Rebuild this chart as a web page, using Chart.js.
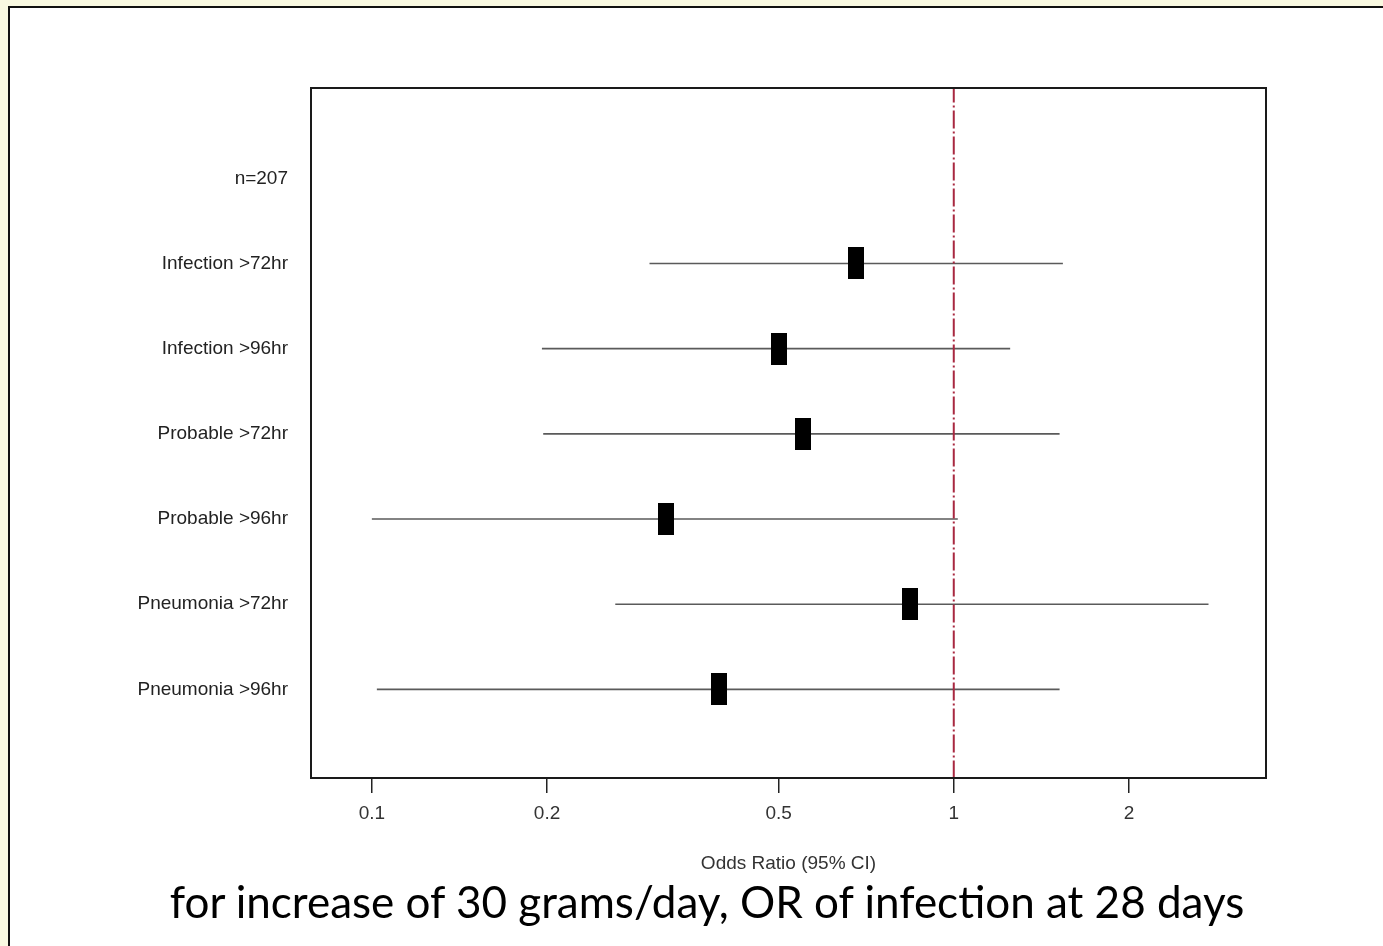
<!DOCTYPE html>
<html>
<head>
<meta charset="utf-8">
<script src="https://cdn.jsdelivr.net/npm/chart.js@4.4.1/dist/chart.umd.min.js"></script>
<style>
  html, body { margin: 0; padding: 0; }
  body { width: 1383px; height: 946px; overflow: hidden; background: #f9f9e1; position: relative; }
  .panel { position: absolute; left: 8px; top: 6px; width: 1400px; height: 960px; background: #fff; border: 2px solid #111; }
  .wrap { position: absolute; left: 0; top: 0; width: 1383px; height: 946px; }
  .caption { position: absolute; left: 0; width: 1414px; top: 875px; text-align: center; line-height: 1.2;
    font-family: Lato, "Open Sans", sans-serif; font-size: 44px; color: #000; }
</style>
</head>
<body>
<div class="panel"></div>
<div class="wrap"><canvas id="forest"></canvas></div>
<div class="caption">for increase of 30 grams/day, OR of infection at 28 days</div>
<script>
(function () {
	'use strict';

	// rows, top to bottom
	var rowLabels = ['n=207', 'Infection >72hr', 'Infection >96hr', 'Probable >72hr',
		'Probable >96hr', 'Pneumonia >72hr', 'Pneumonia >96hr'];
	var oddsRatio = [null, 0.68, 0.50, 0.55, 0.32, 0.84, 0.395];
	var ciLow = [null, 0.30, 0.196, 0.197, 0.10, 0.262, 0.102];
	var ciHigh = [null, 1.54, 1.25, 1.52, 1.016, 2.74, 1.52];
	var xTicks = [0.1, 0.2, 0.5, 1, 2];
	var refValue = 1;

	var labelFont = { family: '"Liberation Sans", Arial, sans-serif', size: 19 };

	// black box marker for the point estimate
	var box = document.createElement('canvas');
	box.width = 16;
	box.height = 32;
	var bctx = box.getContext('2d');
	bctx.fillStyle = '#000';
	bctx.fillRect(0, 0, 16, 32);

	var datasets = [];
	var points = [];
	rowLabels.forEach(function (label, i) {
		if (oddsRatio[i] === null) {
			return;
		}
		points.push({ x: oddsRatio[i], y: i });
		datasets.push({
			type: 'line',
			data: [{ x: ciLow[i], y: i }, { x: ciHigh[i], y: i }],
			borderColor: '#5a5a5a',
			borderWidth: 1.6,
			pointRadius: 0,
			order: 2
		});
	});

	datasets.push({
		type: 'line',
		data: [{ x: refValue, y: -1.1 }, { x: refValue, y: 7.1 }],
		borderColor: '#a82840',
		borderWidth: 2,
		borderDash: [18, 3, 2, 3],
		pointRadius: 0,
		order: 1
	});

	datasets.push({
		type: 'scatter',
		data: points,
		pointStyle: box,
		order: 0
	});

	var frame = {
		id: 'frame',
		afterDraw: function (chart) {
			var a = chart.chartArea, ctx = chart.ctx;
			ctx.save();
			ctx.strokeStyle = '#1a1a1a';
			ctx.lineWidth = 2;
			ctx.strokeRect(a.left, a.top, a.right - a.left, a.bottom - a.top);
			ctx.restore();
		}
	};

	new Chart(document.getElementById('forest'), {
		type: 'scatter',
		data: { datasets: datasets },
		plugins: [frame],
		options: {
			responsive: true,
			maintainAspectRatio: false,
			animation: false,
			layout: { padding: { top: 88, right: 117, left: 0, bottom: 0 } },
			plugins: { legend: { display: false }, tooltip: { enabled: false } },
			scales: {
				x: {
					type: 'logarithmic',
					min: 0.0786,
					max: 3.44,
					afterBuildTicks: function (scale) {
						scale.ticks = xTicks.map(function (v) { return { value: v }; });
					},
					afterFit: function (scale) { scale.height = 168; },
					ticks: {
						color: '#333',
						font: labelFont,
						padding: 9,
						autoSkip: false,
						maxRotation: 0,
						callback: function (v) { return String(v); }
					},
					grid: { display: true, drawOnChartArea: false, drawTicks: true, tickLength: 15, color: '#222', lineWidth: 1.5 },
					border: { display: false },
					title: { display: true, text: 'Odds Ratio (95% CI)', color: '#333', font: labelFont, padding: { top: 0, bottom: 71 } }
				},
				y: {
					type: 'linear',
					reverse: true,
					min: -1.06,
					max: 7.04,
					afterBuildTicks: function (scale) {
						scale.ticks = rowLabels.map(function (l, i) { return { value: i }; });
					},
					afterFit: function (scale) { scale.width = 311; },
					ticks: {
						color: '#222',
						font: labelFont,
						padding: 15,
						autoSkip: false,
						callback: function (v) { return rowLabels[v]; }
					},
					grid: { display: false },
					border: { display: false }
				}
			}
		}
	});
})();
</script>
</body>
</html>
